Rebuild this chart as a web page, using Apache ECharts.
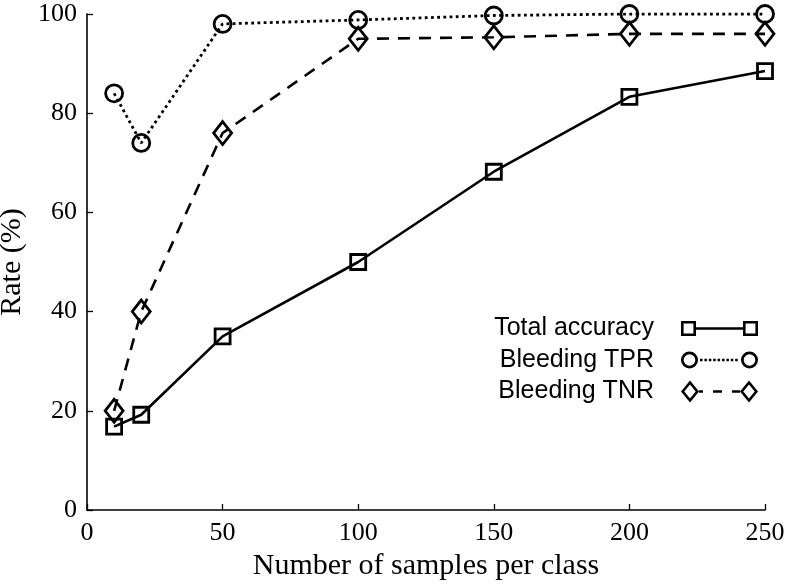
<!DOCTYPE html>
<html><head><meta charset="utf-8">
<script src="https://cdn.jsdelivr.net/npm/echarts@6/dist/echarts.min.js"></script>
<style>html,body{margin:0;padding:0;background:#fff}#c{width:786px;height:587px}</style>
</head><body><div id="c"></div>
<script>
const samples = [10, 20, 50, 100, 150, 200, 250];
const totalAccuracy = [16.8, 19.2, 35.0, 50.0, 68.2, 83.3, 88.5];
const bleedingTPR = [84.0, 74.0, 98.0, 98.8, 99.7, 100.0, 100.0];
const bleedingTNR = [20.0, 40.0, 76.0, 95.0, 95.3, 96.0, 96.0];
const seriesNames = ['Total accuracy', 'Bleeding TPR', 'Bleeding TNR'];
const xTicks = [0, 50, 100, 150, 200, 250];
const yTicks = [0, 20, 40, 60, 80, 100];

function pairs(ys) { return samples.map((x, i) => [x, ys[i]]); }

function dots(x0, x1, y, step, w, h) {
  let p = '';
  for (let x = x0; x + w <= x1; x += step) p += `M${x} ${y} L${x + w} ${y} L${x + w} ${y + h} L${x} ${y + h} Z `;
  return p;
}
const iconSquare = 'path://M0 0 L15 0 L15 15 L0 15 Z M2.6 2.6 L2.6 12.4 L12.4 12.4 L12.4 2.6 Z ' +
  'M15 6.2 L62 6.2 L62 8.8 L15 8.8 Z ' +
  'M62 0 L77 0 L77 15 L62 15 Z M64.6 2.6 L64.6 12.4 L74.4 12.4 L74.4 2.6 Z';
const iconCircle = 'path://M0 8.5 A8.5 8.5 0 1 1 17 8.5 A8.5 8.5 0 1 1 0 8.5 Z M2.7 8.5 A5.8 5.8 0 1 0 14.3 8.5 A5.8 5.8 0 1 0 2.7 8.5 Z ' +
  dots(19, 59, 7.2, 4.4, 2.5, 2.5) +
  'M60 8.5 A8.5 8.5 0 1 1 77 8.5 A8.5 8.5 0 1 1 60 8.5 Z M62.7 8.5 A5.8 5.8 0 1 0 74.3 8.5 A5.8 5.8 0 1 0 62.7 8.5 Z';
const iconDiamond = 'path://M9 0 L18 11 L9 22 L0 11 Z M9 4 L3.3 11 L9 18 L14.7 11 Z ' +
  'M18 9.7 L22 9.7 L22 12.3 L18 12.3 Z M32 9.7 L41 9.7 L41 12.3 L32 12.3 Z M51 9.7 L59 9.7 L59 12.3 L51 12.3 Z ' +
  'M68 0 L77 11 L68 22 L59 11 Z M68 4 L62.3 11 L68 18 L73.7 11 Z';

const serif = '"Liberation Serif", "DejaVu Serif", serif';
const sans = '"Liberation Sans", Arial, sans-serif';

const chart = echarts.init(document.getElementById('c'), null, { renderer: 'canvas' });
const baseSeries = (name, data, symbol, size, lineType, width) => ({
  name, type: 'line', data: pairs(data), symbol, symbolSize: size,
  showAllSymbol: true,
  lineStyle: { color: '#000', width, type: lineType },
  itemStyle: { color: 'rgba(0,0,0,0)', borderColor: '#000', borderWidth: 2.8 },
  emphasis: { disabled: true },
  z: 2
});
chart.setOption({
  animation: false,
  backgroundColor: '#fff',
  grid: { left: 87, right: 21, top: 14, bottom: 77, containLabel: false, outerBoundsMode: 'none' },
  xAxis: {
    type: 'value', min: 0, max: 250, interval: 50,
    name: 'Number of samples per class', nameLocation: 'middle', nameGap: 39,
    nameTextStyle: { fontFamily: serif, fontSize: 30, color: '#000' },
    axisLine: { show: true, lineStyle: { color: '#000', width: 1.6 } },
    axisTick: { show: true, inside: true, length: 6, lineStyle: { color: '#000', width: 1.3 } },
    axisLabel: { fontFamily: serif, fontSize: 26, color: '#000', margin: 10 },
    splitLine: { show: false }
  },
  yAxis: {
    type: 'value', min: 0, max: 100, interval: 20,
    name: 'Rate (%)', nameLocation: 'middle', nameGap: 52,
    nameTextStyle: { fontFamily: serif, fontSize: 30, color: '#000' },
    axisLine: { show: true, lineStyle: { color: '#000', width: 1.6 } },
    axisTick: { show: true, inside: true, length: 6, lineStyle: { color: '#000', width: 1.3 } },
    axisLabel: { fontFamily: serif, fontSize: 26, color: '#000', margin: 10 },
    splitLine: { show: false }
  },
  legend: {
    orient: 'vertical', right: 23, top: 311, align: 'right',
    itemWidth: 77, itemHeight: 22, itemGap: 6.5,
    symbolKeepAspect: true,
    textStyle: { fontFamily: sans, fontSize: 25, color: '#000', padding: [0, 22, 0, 0] },
    data: [
      { name: seriesNames[0], icon: iconSquare, itemStyle: { color: '#000', borderWidth: 0 } },
      { name: seriesNames[1], icon: iconCircle, itemStyle: { color: '#000', borderWidth: 0 } },
      { name: seriesNames[2], icon: iconDiamond, itemStyle: { color: '#000', borderWidth: 0 } }
    ],
    selectedMode: false
  },
  series: [
    baseSeries(seriesNames[0], totalAccuracy, 'rect', 15, 'solid', 2.6),
    baseSeries(seriesNames[1], bleedingTPR, 'circle', 17, [2.8, 3.4], 2.8),
    baseSeries(seriesNames[2], bleedingTNR, 'diamond', [18, 23], [12, 9], 2.6)
  ]
});
</script></body></html>
